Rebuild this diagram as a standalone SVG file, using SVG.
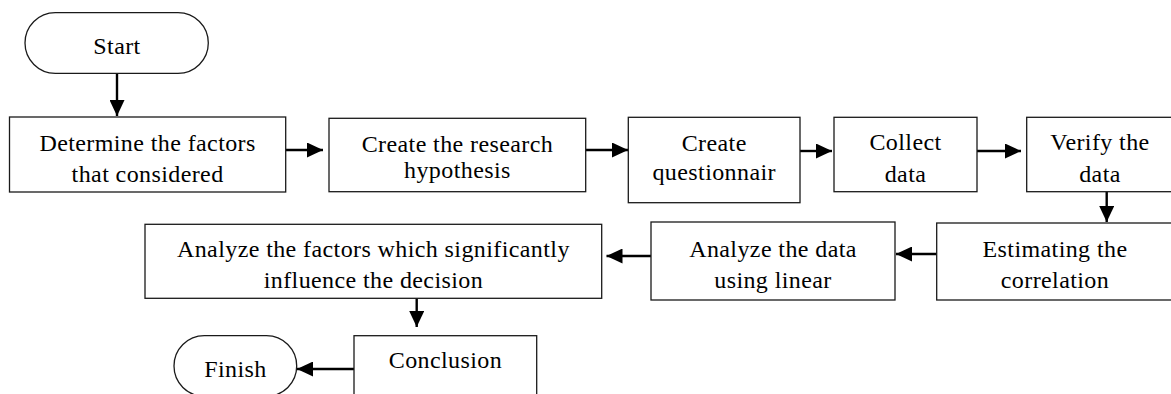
<svg xmlns="http://www.w3.org/2000/svg" width="1171" height="394" viewBox="0 0 1171 394">
<style>
.box{fill:#fff;stroke:#1a1a1a;stroke-width:1.3}
.t{font-family:"Liberation Serif","Times New Roman",serif;font-size:24px;fill:#000;text-anchor:middle;letter-spacing:0.4px}
.c{fill:none;stroke:#000;stroke-width:2.4}
</style>
<defs>
<marker id="ah" markerUnits="userSpaceOnUse" markerWidth="17" markerHeight="15" refX="16" refY="7.5" orient="auto">
<path d="M0,0 L16,7.5 L0,15 z" fill="#000"/>
</marker>
</defs>
<rect width="1171" height="394" fill="#fff"/>
<g id="connectors">
<line class="c" x1="117" y1="73" x2="117" y2="116" marker-end="url(#ah)"/>
<line class="c" x1="285.7" y1="150" x2="323" y2="150" marker-end="url(#ah)"/>
<line class="c" x1="585.7" y1="150" x2="628" y2="150" marker-end="url(#ah)"/>
<line class="c" x1="800" y1="151" x2="832" y2="151" marker-end="url(#ah)"/>
<line class="c" x1="977" y1="151" x2="1021" y2="151" marker-end="url(#ah)"/>
<line class="c" x1="1106.7" y1="191.7" x2="1106.7" y2="222" marker-end="url(#ah)"/>
<line class="c" x1="936.7" y1="254" x2="896" y2="254" marker-end="url(#ah)"/>
<line class="c" x1="651" y1="256" x2="606.5" y2="256" marker-end="url(#ah)"/>
<line class="c" x1="416.7" y1="298.3" x2="416.7" y2="327" marker-end="url(#ah)"/>
<line class="c" x1="354" y1="369" x2="297" y2="369" marker-end="url(#ah)"/>
</g>
<g id="start">
<rect class="box" x="25" y="12.7" width="183.3" height="60.6" rx="30.3" ry="30.3"/>
<text class="t" x="117" y="54">Start</text>
</g>
<g id="determine">
<rect class="box" x="9.5" y="117" width="276.2" height="75"/>
<text class="t" x="147.6" y="150.5">Determine the factors</text>
<text class="t" x="147.6" y="181.5">that considered</text>
</g>
<g id="hypothesis">
<rect class="box" x="329" y="118.3" width="256.7" height="73.4"/>
<text class="t" x="457.4" y="151.5">Create the research</text>
<text class="t" x="457.4" y="178">hypothesis</text>
</g>
<g id="questionnair">
<rect class="box" x="628.3" y="117.3" width="171.7" height="85.4"/>
<text class="t" x="714.2" y="150.5">Create</text>
<text class="t" x="714.2" y="180">questionnair</text>
</g>
<g id="collect">
<rect class="box" x="834" y="117.3" width="143" height="74.4"/>
<text class="t" x="905.5" y="150">Collect</text>
<text class="t" x="905.5" y="181.5">data</text>
</g>
<g id="verify">
<rect class="box" x="1026.7" y="117.3" width="146.6" height="74.4"/>
<text class="t" x="1100" y="150">Verify the</text>
<text class="t" x="1100" y="181.5">data</text>
</g>
<g id="estimating">
<rect class="box" x="936.7" y="223" width="236.6" height="77"/>
<text class="t" x="1055" y="256.5">Estimating the</text>
<text class="t" x="1055" y="288">correlation</text>
</g>
<g id="analyze-data">
<rect class="box" x="651" y="222" width="244" height="78"/>
<text class="t" x="773" y="256.5">Analyze the data</text>
<text class="t" x="773" y="288">using linear</text>
</g>
<g id="analyze-factors">
<rect class="box" x="145" y="224.3" width="456.7" height="74"/>
<text class="t" x="373.4" y="256.5">Analyze the factors which significantly</text>
<text class="t" x="373.4" y="288">influence the decision</text>
</g>
<g id="conclusion">
<rect class="box" x="354" y="335.7" width="182.7" height="75"/>
<text class="t" x="445.4" y="368">Conclusion</text>
</g>
<g id="finish">
<rect class="box" x="174" y="335.7" width="122.7" height="60.6" rx="30.3" ry="30.3"/>
<text class="t" x="235.4" y="376.5">Finish</text>
</g>
</svg>
